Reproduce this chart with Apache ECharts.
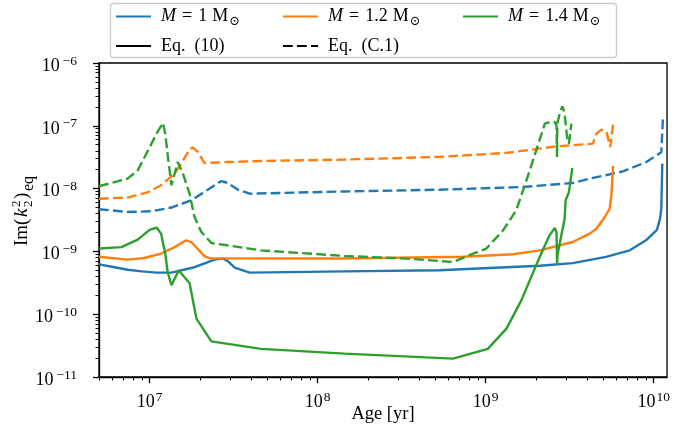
<!DOCTYPE html>
<html>
<head>
<meta charset="utf-8">
<script src="https://cdn.jsdelivr.net/npm/echarts@6/dist/echarts.min.js"></script>
<style>
  html, body { margin: 0; padding: 0; background: #ffffff; }
  #chart { width: 697px; height: 424px; }
</style>
</head>
<body>
<div id="chart"></div>
<script>
// Imaginary part of the equilibrium tidal Love number vs stellar age.
// Each curve: [age in yr, Im(k2^2)_eq]

// M = 1 Msun
const m1Eq10 = [
  [5.0e6, 6.2e-10], [6.2e6, 5.6e-10], [7.4e6, 5.1e-10], [9.0e6, 4.8e-10], [1.1e7, 4.6e-10],
  [1.35e7, 4.6e-10], [1.85e7, 5.6e-10], [2.44e7, 7.4e-10], [2.73e7, 7.7e-10], [2.92e7, 7.0e-10],
  [3.21e7, 5.5e-10], [3.94e7, 4.6e-10], [1.45e8, 4.8e-10], [5.3e8, 5.0e-10], [2.1e9, 5.9e-10],
  [3.3e9, 6.5e-10], [5.2e9, 8.2e-10], [7.2e9, 1.04e-9], [9.0e9, 1.5e-9], [1.045e10, 2.2e-9],
  [1.09e10, 3.3e-9], [1.11e10, 4.8e-9], [1.125e10, 2.5e-8]
];
const m1EqC1 = [
  [5.0e6, 4.7e-9], [7.4e6, 4.25e-9], [1.02e7, 4.35e-9], [1.35e7, 5.0e-9], [1.77e7, 6.5e-9],
  [2.22e7, 9.6e-9], [2.67e7, 1.32e-8], [2.92e7, 1.23e-8], [3.36e7, 9.6e-9], [3.94e7, 8.3e-9],
  [1.45e8, 9.0e-9], [5.3e8, 9.6e-9], [1.67e9, 1.06e-8], [3.3e9, 1.23e-8], [4.16e9, 1.44e-8],
  [6.57e9, 1.88e-8], [9.04e9, 2.65e-8], [1.11e10, 3.8e-8], [1.135e10, 1.3e-7]
];

// M = 1.2 Msun
const m12Eq10 = [
  [5.0e6, 8.2e-10], [7.4e6, 7.4e-10], [9.3e6, 7.85e-10], [1.17e7, 9.2e-10], [1.41e7, 1.17e-9],
  [1.65e7, 1.5e-9], [1.77e7, 1.41e-9], [2.12e7, 8.4e-10], [2.28e7, 7.8e-10], [1.45e8, 7.7e-10],
  [7.3e8, 8.2e-10], [1.46e9, 9.0e-10], [2.1e9, 1.04e-9], [3.3e9, 1.41e-9], [4.16e9, 1.92e-9],
  [4.56e9, 2.3e-9], [5.11e9, 3.5e-9], [5.47e9, 4.8e-9], [5.6e9, 7.8e-9], [5.73e9, 2.3e-8]
];
const m12EqC1 = [
  [5.0e6, 6.9e-9], [7.4e6, 7.2e-9], [9.8e6, 8.8e-9], [1.17e7, 1.13e-8], [1.41e7, 1.73e-8],
  [1.55e7, 2.56e-8], [1.73e7, 4.2e-8], [1.81e7, 4.5e-8], [1.94e7, 3.8e-8], [2.12e7, 2.56e-8],
  [2.92e7, 2.65e-8], [4.6e7, 2.75e-8], [1.45e8, 2.9e-8], [5.3e8, 3.2e-8], [1.33e9, 3.7e-8],
  [2.64e9, 4.7e-8], [4.35e9, 5.2e-8], [4.56e9, 7.5e-8], [4.89e9, 8.7e-8], [5.23e9, 8.0e-8],
  [5.52e9, 4.6e-8], [5.73e9, 1.04e-7]
];

// M = 1.4 Msun
const m14Eq10 = [
  [5.0e6, 1.11e-9], [6.8e6, 1.17e-9], [8.5e6, 1.54e-9], [1.0e7, 2.2e-9], [1.1e7, 2.4e-9],
  [1.17e7, 1.92e-9], [1.24e7, 9.2e-10], [1.28e7, 4.7e-10], [1.35e7, 2.9e-10], [1.49e7, 5.0e-10],
  [1.73e7, 3.1e-10], [1.9e7, 8.5e-11], [2.33e7, 3.7e-11], [4.6e7, 2.8e-11], [1.45e8, 2.36e-11],
  [6.4e8, 1.96e-11], [1.03e9, 2.8e-11], [1.33e9, 5.9e-11], [1.63e9, 1.66e-10], [2.1e9, 8.2e-10],
  [2.4e9, 1.8e-9], [2.58e9, 2.36e-9], [2.64e9, 2.04e-9], [2.66e9, 6.4e-10], [2.68e9, 9.0e-10],
  [2.95e9, 3.3e-9], [2.99e9, 6.5e-9], [3.03e9, 6.2e-9], [3.13e9, 8.8e-9], [3.28e9, 2.13e-8]
];
const m14EqC1 = [
  [5.0e6, 1.09e-8], [7.4e6, 1.44e-8], [8.5e6, 1.95e-8], [9.8e6, 4.07e-8], [1.1e7, 7.5e-8],
  [1.2e7, 1.11e-7], [1.24e7, 7.5e-8], [1.3e7, 2.5e-8], [1.35e7, 1.13e-8], [1.41e7, 1.73e-8],
  [1.47e7, 2.65e-8], [1.58e7, 1.73e-8], [1.73e7, 8.3e-9], [1.85e7, 3.53e-9], [2.03e7, 2.05e-9],
  [2.33e7, 1.36e-9], [4.6e7, 1.04e-9], [1.45e8, 8.45e-10], [3.4e8, 7.67e-10], [6.4e8, 6.78e-10],
  [7.7e8, 8.36e-10], [1.01e9, 1.11e-9], [1.27e9, 2.17e-9], [1.52e9, 4.51e-9], [1.75e9, 1.36e-8],
  [2.0e9, 4.07e-8], [2.25e9, 1.08e-7], [2.4e9, 1.15e-7], [2.58e9, 1.15e-7], [2.64e9, 1.0e-7],
  [2.66e9, 3.18e-8], [2.67e9, 1.1e-7], [2.79e9, 1.77e-7], [2.87e9, 2.05e-7], [2.95e9, 1.56e-7],
  [3.05e9, 6.64e-8], [3.13e9, 5.21e-8], [3.24e9, 1.08e-7]
];

// Axis ranges and tick positions
const xRange = [5e6, 1.2e10];
const yRange = [1e-11, 1e-6];
const xMajorTicks = [1e7, 1e8, 1e9, 1e10];
const yMajorTicks = [1e-11, 1e-10, 1e-9, 1e-8, 1e-7, 1e-6];
const minorSteps = [2, 3, 4, 5, 6, 7, 8, 9];
const xMinorDecades = [1e6, 1e7, 1e8, 1e9];
const yMinorDecades = [1e-11, 1e-10, 1e-9, 1e-8, 1e-7];

// Legend entries
const massNames = ['M = 1', 'M = 1.2', 'M = 1.4'];
const massLabels = ['1', '1.2', '1.4'];
const eqNames = ['Eq. (10)', 'Eq. (C.1)'];
const eqRefs = ['(10)', '(C.1)'];
const colors = ['#1f77b4', '#ff7f0e', '#2ca02c'];

const SERIF = '"Liberation Serif", "DejaVu Serif", serif';
const LW = 2.4;
const DASH = [9.8, 4.2];

function minorList(decades, range) {
  const out = [];
  decades.forEach(d => minorSteps.forEach(s => {
    const v = s * d;
    if (v >= range[0] && v <= range[1]) out.push(v);
  }));
  return out;
}
const xMinorTicks = minorList(xMinorDecades, xRange);
const yMinorTicks = minorList(yMinorDecades, yRange);

function powRich(supPad) {
  return {
    b: { fontFamily: SERIF, fontSize: 18, lineHeight: 18, color: '#000', verticalAlign: 'top', padding: [3, 0, 0, 0] },
    s: { fontFamily: SERIF, fontSize: 13.5, lineHeight: 13, color: '#000', verticalAlign: 'top', padding: [0, 0, 0, supPad] }
  };
}
function powLabel(v) {
  const n = Math.round(Math.log10(v));
  return '{b|10}{s|' + (n < 0 ? '\u2212' + (-n) : n) + '}';
}

function lineSeries(name, data, color, dashed) {
  return {
    name: name,
    type: 'line',
    xAxisIndex: 0,
    yAxisIndex: 0,
    data: data,
    symbol: 'none',
    showSymbol: false,
    smooth: false,
    animation: false,
    color: color,
    lineStyle: { color: color, width: LW, type: dashed ? DASH : 'solid' },
    emphasis: { disabled: true }
  };
}

const series = [
  lineSeries(massNames[0], m1Eq10, colors[0], false),
  lineSeries(massNames[0], m1EqC1, colors[0], true),
  lineSeries(massNames[1], m12Eq10, colors[1], false),
  lineSeries(massNames[1], m12EqC1, colors[1], true),
  lineSeries(massNames[2], m14Eq10, colors[2], false),
  lineSeries(massNames[2], m14EqC1, colors[2], true),
  lineSeries(eqNames[0], [], '#000000', false),
  lineSeries(eqNames[1], [], '#000000', true)
];

const legendRich = {
  it: { fontFamily: SERIF, fontSize: 18, lineHeight: 18, fontStyle: 'italic', color: '#000', verticalAlign: 'top', padding: [0, 0, 0, 5] },
  op: { fontFamily: SERIF, fontSize: 18, lineHeight: 18, color: '#000', verticalAlign: 'top', padding: [0, 6, 0, 6] },
  t: { fontFamily: SERIF, fontSize: 18, lineHeight: 18, color: '#000', verticalAlign: 'top' },
  u: { fontFamily: SERIF, fontSize: 18, lineHeight: 18, color: '#000', verticalAlign: 'top', padding: [0, 0, 0, 5] },
  sub: { fontFamily: SERIF, fontSize: 13, lineHeight: 13, color: '#000', verticalAlign: 'top', padding: [8, 0, 0, 1] },
  e: { fontFamily: SERIF, fontSize: 18, lineHeight: 18, color: '#000', padding: [0, 0, 0, 5] },
  r: { fontFamily: SERIF, fontSize: 18, lineHeight: 18, color: '#000', padding: [0, 0, 0, 9] }
};
function legendText(name) {
  const i = massNames.indexOf(name);
  if (i >= 0) return '{it|M}{op|=}{t|' + massLabels[i] + '}{u|M}{sub|\u2299}';
  return '{e|Eq.}{r|' + eqRefs[eqNames.indexOf(name)] + '}';
}
function legendAt(name, left, top) {
  return {
    data: [name],
    left: left,
    top: top,
    padding: 0,
    itemWidth: 35,
    itemHeight: 2,
    selectedMode: false,
    formatter: legendText,
    itemStyle: { opacity: 0 },
    textStyle: { fontFamily: SERIF, fontSize: 18, color: '#000', rich: legendRich }
  };
}

const axisLineStyle = { color: '#000', width: 1.3 };

const option = {
  animation: false,
  backgroundColor: '#ffffff',
  grid: {
    left: 99, right: 30, top: 63, bottom: 47,
    show: true, borderColor: '#000', borderWidth: 1.3, backgroundColor: 'transparent',
    containLabel: false, outerBoundsMode: 'none'
  },
  xAxis: [
    {
      type: 'log', logBase: 10, min: xRange[0], max: xRange[1], position: 'bottom',
      axisLine: { show: true, onZero: false, lineStyle: axisLineStyle },
      axisTick: { show: true, customValues: xMajorTicks, length: 6, lineStyle: axisLineStyle },
      axisLabel: { show: true, customValues: xMajorTicks, margin: 13, formatter: powLabel, rich: powRich(1) },
      splitLine: { show: false }, minorTick: { show: false }, minorSplitLine: { show: false }
    },
    {
      type: 'log', logBase: 10, min: xRange[0], max: xRange[1], position: 'bottom',
      axisLine: { show: false, onZero: false },
      axisTick: { show: true, customValues: xMinorTicks, length: 3.5, lineStyle: { color: '#000', width: 1 } },
      axisLabel: { show: false },
      splitLine: { show: false }
    }
  ],
  yAxis: [
    {
      type: 'log', logBase: 10, min: yRange[0], max: yRange[1], position: 'left',
      axisLine: { show: true, onZero: false, lineStyle: axisLineStyle },
      axisTick: { show: true, customValues: yMajorTicks, length: 6, lineStyle: axisLineStyle },
      axisLabel: { show: true, customValues: yMajorTicks, margin: 22, formatter: powLabel, rich: powRich(3) },
      splitLine: { show: false }, minorTick: { show: false }, minorSplitLine: { show: false }
    },
    {
      type: 'log', logBase: 10, min: yRange[0], max: yRange[1], position: 'left',
      axisLine: { show: false, onZero: false },
      axisTick: { show: true, customValues: yMinorTicks, length: 3.5, lineStyle: { color: '#000', width: 1 } },
      axisLabel: { show: false },
      splitLine: { show: false }
    }
  ],
  legend: [
    legendAt(massNames[0], 115, 7.5),
    legendAt(massNames[1], 282, 7.5),
    legendAt(massNames[2], 462, 7.5),
    legendAt(eqNames[0], 115, 37),
    legendAt(eqNames[1], 282, 37)
  ],
  graphic: [
    {
      type: 'rect', z: 1, silent: true,
      shape: { x: 110.5, y: 3.5, width: 506, height: 54, r: 3 },
      style: { fill: 'rgba(255,255,255,0.8)', stroke: '#cccccc', lineWidth: 1.3 }
    },
    {
      type: 'text', z: 5, silent: true, x: 383, y: 414.5,
      style: { text: 'Age [yr]', fontFamily: SERIF, fontSize: 18.5, fill: '#000', align: 'center', verticalAlign: 'middle' }
    },
    {
      type: 'group', x: 28, y: 246, rotation: Math.PI / 2, silent: true, z: 5,
      children: [
        { type: 'text', x: 0, y: -6.3, style: { text: 'Im(', fontFamily: SERIF, fontSize: 19, fill: '#000', align: 'left', verticalAlign: 'middle' } },
        { type: 'text', x: 29, y: -6.3, style: { text: 'k', fontFamily: SERIF, fontSize: 19, fontStyle: 'italic', fill: '#000', align: 'left', verticalAlign: 'middle' } },
        { type: 'text', x: 39, y: -11.5, style: { text: '2', fontFamily: SERIF, fontSize: 13, fill: '#000', align: 'left', verticalAlign: 'middle' } },
        { type: 'text', x: 39, y: 0.8, style: { text: '2', fontFamily: SERIF, fontSize: 13, fill: '#000', align: 'left', verticalAlign: 'middle' } },
        { type: 'text', x: 47, y: -6.3, style: { text: ')', fontFamily: SERIF, fontSize: 19, fill: '#000', align: 'left', verticalAlign: 'middle' } },
        { type: 'text', x: 55, y: 0.8, style: { text: 'eq', fontFamily: SERIF, fontSize: 16, fill: '#000', align: 'left', verticalAlign: 'middle' } }
      ]
    }
  ],
  series: series
};

const chart = echarts.init(document.getElementById('chart'), null, { renderer: 'canvas' });
chart.setOption(option);
</script>
</body>
</html>
